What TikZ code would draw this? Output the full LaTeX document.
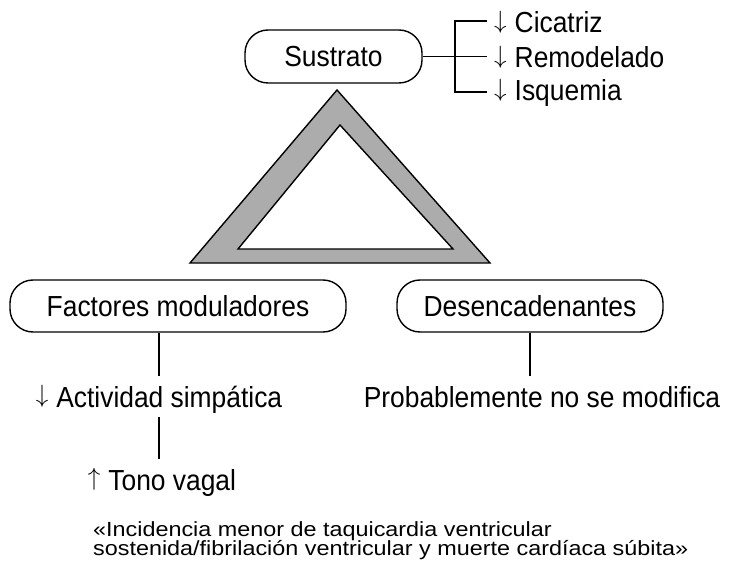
\documentclass[tikz,border=0pt]{standalone}
\usepackage{fontspec}
\setmainfont{Liberation Sans}
\newfontfamily\mainf[FakeStretch=0.91]{Liberation Sans}
\newfontfamily\widef[FakeStretch=1.14]{Liberation Sans}
\newcommand\notefont{\widef\fontsize{20.5}{19.5}\selectfont\lineskiplimit=-50pt\relax}
\newcommand\dnarr{\raisebox{4.8pt}{\scalebox{2.5}{\fontsize{10}{12}\selectfont$\downarrow$}}\hspace{8pt}}
\newcommand\uparr{\raisebox{4.8pt}{\scalebox{2.5}{\fontsize{10}{12}\selectfont$\uparrow$}}\hspace{8pt}}
\begin{document}
\begin{tikzpicture}[x=1pt,y=-1pt,
  bigtext/.style={font=\mainf\fontsize{29}{32}\selectfont},
  pill/.style={bigtext, draw, line width=1.4pt, rounded corners=23pt, inner sep=0pt},
  lbl/.style={bigtext, inner xsep=0pt, inner ysep=10pt, text height=20.5pt, text depth=0pt},
  side/.style={bigtext, inner sep=0pt, anchor=base west},
  lnk/.style={line width=1.4pt}]
\useasboundingbox (0,0) rectangle (730,577);

% boxes
\node[pill, minimum width=177pt, minimum height=53pt] (sus) at (333.5,56.5) {Sustrato};
\node[pill, minimum width=336pt, minimum height=52pt] (fac) at (178,306) {Factores moduladores};
\node[pill, minimum width=266pt, minimum height=52pt] (des) at (530,306) {Desencadenantes};

% bracket texts
\node[side] (c1) at (494,33) {\dnarr Cicatriz};
\node[side] (c2) at (494,68) {\dnarr Remodelado};
\node[side] (c3) at (494,101) {\dnarr Isquemia};
\coordinate (t1) at (487,21);
\coordinate (t3) at (487,92);
\coordinate (v1) at (455,21);
\coordinate (v3) at (455,92);
\draw[lnk] (sus.east) -- ([xshift=-7pt]c2.west |- sus.east);
\draw[lnk] (t1) -- (v1) -- (v3) -- (t3);

% triangle
\fill[gray!65, even odd rule] (337,90) -- (190,263) -- (490,263) -- cycle
  (340,125) -- (238,249) -- (453,249) -- cycle;
\draw[line width=1.4pt, line join=miter] (337,90) -- (190,263) -- (490,263) -- cycle;
\draw[line width=1.4pt, line join=miter] (340,125) -- (238,249) -- (453,249) -- cycle;

% lower chain
\node[lbl, anchor=base] (act) at (159,407) {\dnarr Actividad simpática};
\node[lbl, anchor=base] (tono) at (162,490) {\uparr Tono vagal};
\node[lbl, anchor=base] (prob) at (542,407) {Probablemente no se modifica};
\draw[lnk] (act.north |- fac.south) -- (act.north);
\draw[lnk] (act.south) -- (act.south |- tono.north);
\draw[lnk] (des.south) -- (des.south |- prob.north);

% note
\node[anchor=north west, inner sep=0pt, align=left, font=\notefont] (note) at (93,521)
  {«Incidencia menor de taquicardia ventricular\\sostenida/fibrilación ventricular y muerte cardíaca súbita»};
\end{tikzpicture}
\end{document}
